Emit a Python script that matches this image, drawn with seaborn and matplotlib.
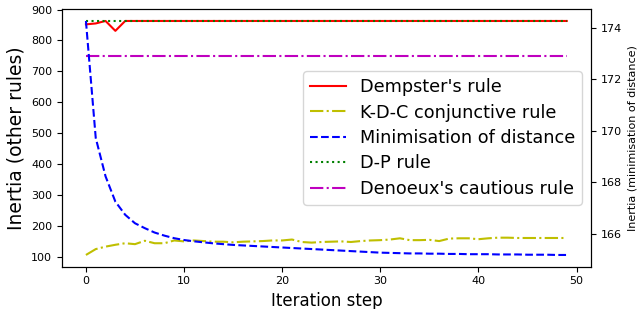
import numpy as np
import matplotlib
matplotlib.use("Agg")
import matplotlib.pyplot as plt
import seaborn as sns

# iteration steps 0..49
steps = list(range(50))

dempster = [852, 855, 863, 831] + [863] * 46
dp_rule = [863] * 50
cautious = [748] * 50
kdc = [105, 124, 132, 138, 143, 140, 151, 143, 143, 152,
       149, 152, 150, 148, 148, 146, 148, 149, 150, 152,
       152, 155, 147, 145, 147, 148, 149, 147, 150, 152,
       153, 155, 159, 153, 153, 154, 150, 158, 159, 159,
       156, 159, 161, 161, 160, 160, 160, 160, 160, 160]
# minimisation of distance, plotted on the right axis
min_dist = [174.26, 169.72, 168.23, 167.25, 166.74, 166.41, 166.22, 166.05, 165.93, 165.83,
            165.76, 165.71, 165.67, 165.63, 165.60, 165.57, 165.55, 165.53, 165.51, 165.49,
            165.47, 165.45, 165.43, 165.41, 165.39, 165.37, 165.35, 165.33, 165.31, 165.29,
            165.27, 165.26, 165.25, 165.24, 165.24, 165.23, 165.23, 165.22, 165.22, 165.21,
            165.21, 165.21, 165.20, 165.20, 165.20, 165.19, 165.19, 165.19, 165.18, 165.18]

fig, ax = plt.subplots(figsize=(6.38, 3.09), dpi=100)
fig.subplots_adjust(left=0.097, right=0.926, bottom=0.137, top=0.970)
ax2 = ax.twinx()

sns.lineplot(x=steps, y=dempster, ax=ax, color="r", linestyle="-", label="Dempster's rule", legend=False)
sns.lineplot(x=steps, y=kdc, ax=ax, color="y", linestyle="-.", label="K-D-C conjunctive rule", legend=False)
sns.lineplot(x=steps, y=min_dist, ax=ax2, color="b", linestyle="--", label="Minimisation of distance", legend=False)
sns.lineplot(x=steps, y=dp_rule, ax=ax, color="g", linestyle=":", label="D-P rule", legend=False)
sns.lineplot(x=steps, y=cautious, ax=ax, color="m", linestyle="-.", label="Denoeux's cautious rule", legend=False)

ax.set_xticks([0, 10, 20, 30, 40, 50])
ax2.set_yticks([166, 168, 170, 172, 174])
ax.tick_params(labelsize=8)
ax2.tick_params(labelsize=8)
ax.set_xlabel("Iteration step", fontsize=12)
ax.set_ylabel("Inertia (other rules)", fontsize=13.5)
ax2.set_ylabel("Inertia (minimisation of distance)", fontsize=8)

h1, l1 = ax.get_legend_handles_labels()
h2, l2 = ax2.get_legend_handles_labels()
handles = [h1[0], h1[1], h2[0], h1[2], h1[3]]
labels = [l1[0], l1[1], l2[0], l1[2], l1[3]]
for a in (ax, ax2):
    if a.get_legend() is not None:
        a.get_legend().remove()
ax2.legend(handles, labels, loc="center right", fontsize=12.7, labelspacing=0.42)

fig.savefig("out.png", dpi=100)
